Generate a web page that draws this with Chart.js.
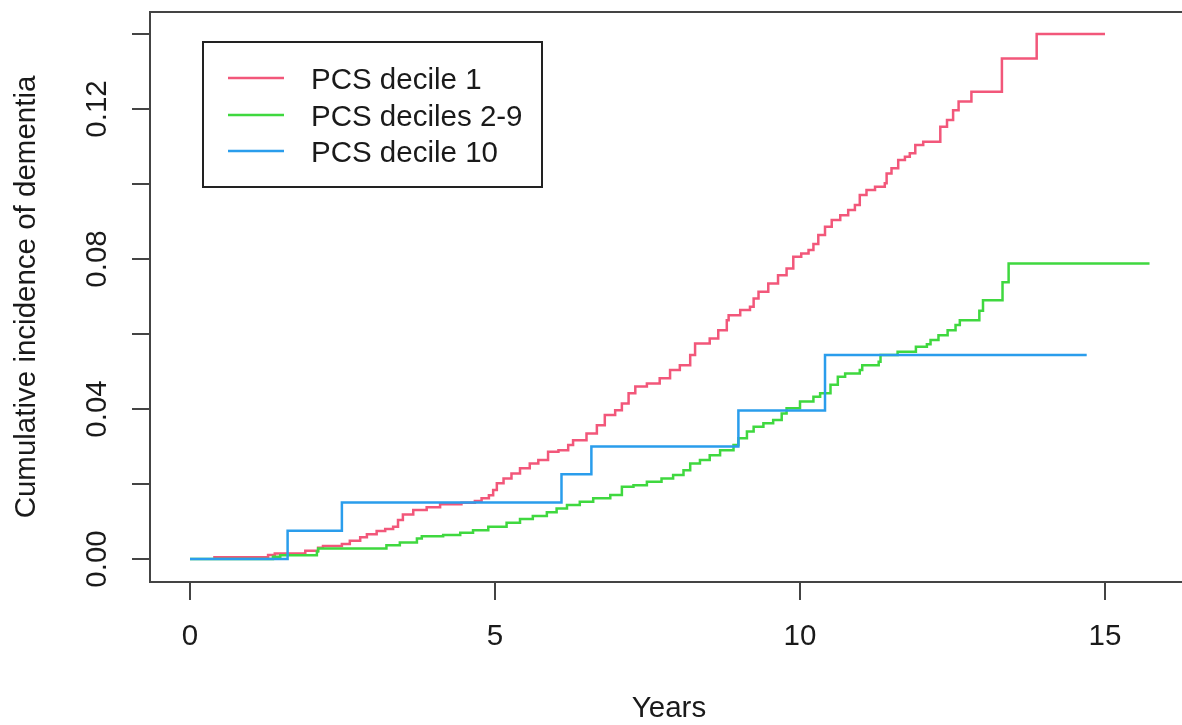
<!DOCTYPE html>
<html><head><meta charset="utf-8">
<script src="https://cdn.jsdelivr.net/npm/chart.js@4.4.0/dist/chart.umd.min.js"></script>
<style>html,body{margin:0;padding:0;background:#fff;overflow:hidden}</style>
</head><body>
<canvas id="c" width="1182" height="725"></canvas>
<script>
// ---- data ----
const seriesLabels = ["PCS decile 1", "PCS deciles 2-9", "PCS decile 10"];
const seriesColors = ["#F2577A", "#3FD83F", "#2A9DEC"];

const redT = [0.38,1.28,1.39,1.89,2.10,2.18,2.49,2.62,2.79,2.90,3.06,3.20,3.33,3.41,3.49,3.66,3.88,4.10,4.45,4.67,4.78,4.90,4.97,5.03,5.14,5.27,5.41,5.57,5.71,5.87,6.04,6.20,6.28,6.50,6.67,6.80,6.97,7.08,7.19,7.30,7.49,7.70,7.87,8.03,8.20,8.28,8.52,8.66,8.80,8.83,9.02,9.18,9.24,9.32,9.48,9.64,9.78,9.89,10.02,10.14,10.22,10.30,10.41,10.52,10.66,10.79,10.90,10.98,11.09,11.23,11.39,11.42,11.50,11.61,11.72,11.80,11.89,12.02,12.30,12.41,12.51,12.60,12.81,13.31,13.88,15.00];
const redV = [0.0005,0.0011,0.0015,0.0022,0.0030,0.0035,0.0040,0.0049,0.0058,0.0066,0.0075,0.0080,0.0086,0.0104,0.0119,0.0131,0.0138,0.0146,0.0150,0.0155,0.0162,0.0170,0.0184,0.0202,0.0215,0.0228,0.0242,0.0255,0.0264,0.0286,0.0290,0.0304,0.0317,0.0335,0.0357,0.0384,0.0397,0.0415,0.0442,0.0460,0.0468,0.0482,0.0504,0.0517,0.0544,0.0575,0.0588,0.0610,0.0637,0.0650,0.0664,0.0673,0.0695,0.0713,0.0735,0.0757,0.0775,0.0806,0.0815,0.0824,0.0840,0.0864,0.0886,0.0904,0.0917,0.0931,0.0944,0.0971,0.0984,0.0993,0.1002,0.1028,0.1042,0.1064,0.1073,0.1082,0.1104,0.1113,0.1153,0.1171,0.1197,0.1220,0.1246,0.1335,0.1400,0.1400];

const greenT = [0,1.36,1.48,2.08,2.10,3.22,3.44,3.72,3.80,4.15,4.43,4.64,4.89,5.19,5.41,5.62,5.85,6.01,6.18,6.39,6.61,6.89,7.08,7.27,7.49,7.73,7.92,8.09,8.20,8.36,8.52,8.69,8.91,8.99,9.13,9.24,9.40,9.56,9.70,9.78,10.00,10.22,10.33,10.50,10.62,10.74,10.98,11.02,11.29,11.32,11.60,11.90,12.08,12.14,12.27,12.42,12.55,12.62,12.94,13.00,13.32,13.42,15.73];
const greenV = [0,0.0006,0.0010,0.0020,0.0028,0.0037,0.0044,0.0055,0.0061,0.0064,0.0070,0.0077,0.0086,0.0097,0.0107,0.0115,0.0125,0.0135,0.0144,0.0153,0.0162,0.0171,0.0193,0.0197,0.0206,0.0215,0.0224,0.0237,0.0255,0.0264,0.0277,0.0290,0.0304,0.0322,0.0340,0.0353,0.0362,0.0371,0.0388,0.0402,0.0420,0.0433,0.0442,0.0465,0.0486,0.0495,0.0504,0.0517,0.0526,0.0544,0.0553,0.0566,0.0573,0.0584,0.0597,0.0610,0.0624,0.0637,0.0662,0.0690,0.0738,0.0788,0.0788];

const blueT = [0,1.60,2.49,6.09,6.58,8.99,10.41,14.70];
const blueV = [0,0.00755,0.0151,0.0226,0.0300,0.0396,0.0544,0.0544];

const xTicks = [0,5,10,15];
const xTickLabels = ["0","5","10","15"];
const yTicks = [0,0.02,0.04,0.06,0.08,0.10,0.12,0.14];
const yTickLabelValues = [0,0.04,0.08,0.12];
const yTickLabels = ["0.00","0.04","0.08","0.12"];
const xTitle = "Years";
const yTitle = "Cumulative incidence of dementia";

function pts(t, v){ return t.map((x,i)=>({x:x, y:v[i]})); }

const FONT = '29.5px "Liberation Sans", Arial, sans-serif';
const TXT = '#1a1a1a';

const axesPlugin = {
  id: 'rbase',
  afterDraw(chart){
    const ctx = chart.ctx, a = chart.chartArea;
    const xs = chart.scales.x, ys = chart.scales.y;
    ctx.save();
    // box
    ctx.strokeStyle = '#444'; ctx.lineWidth = 2;
    ctx.strokeRect(a.left, a.top, a.right - a.left + 10, a.bottom - a.top);
    // ticks
    ctx.beginPath();
    xTicks.forEach(v=>{ const p = Math.round(xs.getPixelForValue(v)); ctx.moveTo(p, a.bottom); ctx.lineTo(p, a.bottom+18); });
    yTicks.forEach(v=>{ const p = Math.round(ys.getPixelForValue(v)); ctx.moveTo(a.left, p); ctx.lineTo(a.left-18, p); });
    ctx.stroke();
    ctx.fillStyle = TXT; ctx.font = FONT;
    ctx.textAlign = 'center'; ctx.textBaseline = 'middle';
    xTicks.forEach((v,i)=>{ ctx.fillText(xTickLabels[i], xs.getPixelForValue(v), 637); });
    yTickLabelValues.forEach((v,i)=>{
      ctx.save(); ctx.translate(98, ys.getPixelForValue(v)); ctx.rotate(-Math.PI/2);
      ctx.fillText(yTickLabels[i], 0, 0); ctx.restore();
    });
    // titles
    ctx.fillText(xTitle, (a.left + 1182)/2 + 3, 709);
    ctx.save(); ctx.translate(27, (a.top + a.bottom)/2); ctx.rotate(-Math.PI/2);
    ctx.fillText(yTitle, 0, 0); ctx.restore();
    // legend
    ctx.strokeStyle = '#222'; ctx.lineWidth = 2;
    ctx.strokeRect(203, 42, 339, 145);
    const rows = [78, 115, 151];
    chart.data.datasets.forEach((ds,i)=>{
      ctx.strokeStyle = ds.borderColor; ctx.lineWidth = 2.5;
      ctx.beginPath(); ctx.moveTo(228, rows[i]); ctx.lineTo(284, rows[i]); ctx.stroke();
      ctx.fillStyle = TXT; ctx.textAlign = 'left';
      ctx.fillText(ds.label, 311, rows[i] + 3);
    });
    ctx.restore();
  }
};

new Chart(document.getElementById('c'), {
  type: 'line',
  data: {
    datasets: [
      {label: seriesLabels[0], data: pts(redT, redV), borderColor: seriesColors[0], order: 3},
      {label: seriesLabels[1], data: pts(greenT, greenV), borderColor: seriesColors[1], order: 2},
      {label: seriesLabels[2], data: pts(blueT, blueV), borderColor: seriesColors[2], order: 1}
    ].map(d => Object.assign(d, {stepped: 'before', borderWidth: 2.5, pointRadius: 0, fill: false, tension: 0}))
  },
  options: {
    responsive: false, animation: false, devicePixelRatio: 1,
    layout: {padding: {left: 150, top: 12, right: 0, bottom: 143}},
    scales: {
      x: {type: 'linear', min: -40/61, max: (1182-190)/61, display: false},
      y: {type: 'linear', min: -23/3750, max: 547/3750, display: false}
    },
    plugins: {legend: {display: false}, tooltip: {enabled: false}}
  },
  plugins: [axesPlugin]
});
</script>
</body></html>
